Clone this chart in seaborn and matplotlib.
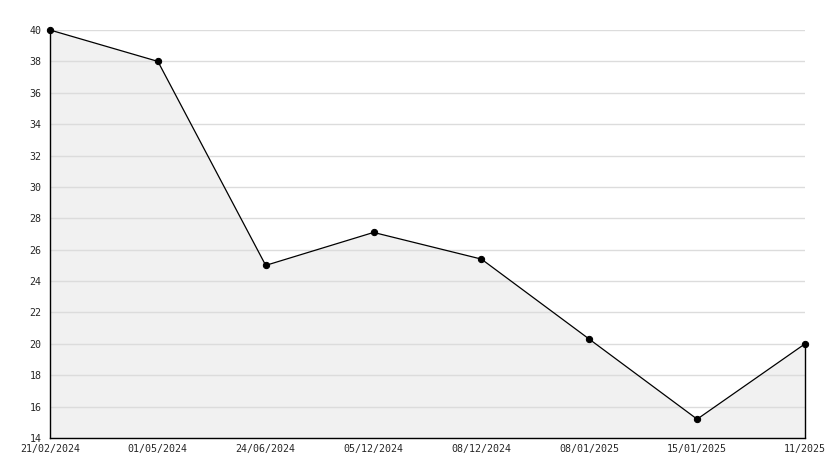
import numpy as np
import pandas as pd
import matplotlib
matplotlib.use("Agg")
import matplotlib.pyplot as plt
from matplotlib.ticker import MultipleLocator
import seaborn as sns

# data
dates = ["21/02/2024", "01/05/2024", "24/06/2024", "05/12/2024",
         "08/12/2024", "08/01/2025", "15/01/2025", "11/2025"]
values = [40.0, 38.0, 25.0, 27.1, 25.4, 20.3, 15.2, 20.0]

df = pd.DataFrame({"pos": np.arange(len(dates)), "value": values})

sns.set_style("white")
plt.rcParams["font.family"] = ["DejaVu Sans Mono"]

fig = plt.figure(figsize=(8.34, 4.68), dpi=100)
ax = fig.add_axes([50 / 834, 30 / 468, 755 / 834, 408 / 468])

ax.fill_between(df["pos"], df["value"], 14, color="#f1f1f1", zorder=1, lw=0)
ax.plot([df["pos"].iloc[-1]] * 2, [14, df["value"].iloc[-1]], color="black",
        lw=1, zorder=3, clip_on=False)
sns.lineplot(data=df, x="pos", y="value", ax=ax, color="black", lw=0.9,
             marker="o", markersize=4.5, markeredgecolor="black", zorder=4,
             clip_on=False)

ax.set_xlim(0, len(dates) - 1)
ax.set_ylim(14, 40)
ax.yaxis.set_major_locator(MultipleLocator(2))
ax.yaxis.set_minor_locator(MultipleLocator(1))
ax.set_xticks(df["pos"])
ax.set_xticklabels(dates)
ax.grid(axis="y", which="major", color="#dcdcdc", lw=1, zorder=2)
ax.set_axisbelow(False)

for side in ["top", "right"]:
    ax.spines[side].set_visible(False)
for side in ["left", "bottom"]:
    ax.spines[side].set_color("black")
    ax.spines[side].set_linewidth(1)
    ax.spines[side].set_zorder(5)

ax.tick_params(axis="both", which="both", direction="in", color="black",
               labelsize=7.2, width=1)
ax.tick_params(axis="y", which="both", length=3, pad=6)
ax.tick_params(axis="x", which="major", length=4, pad=4)
ax.set_xlabel("")
ax.set_ylabel("")

fig.savefig("out.png", dpi=100)
